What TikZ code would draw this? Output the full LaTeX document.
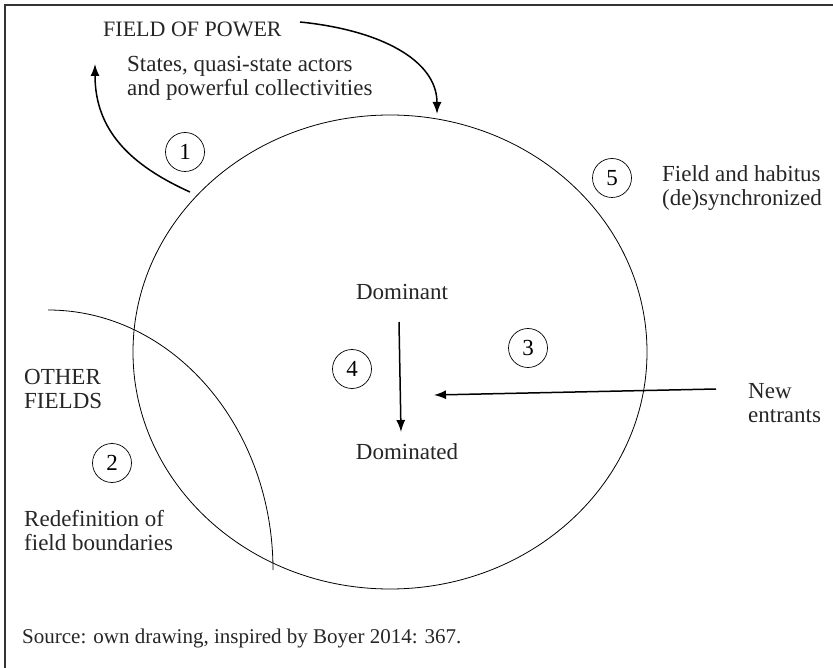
\documentclass[tikz,border=0pt]{standalone}
\usepackage{fontspec}
\setmainfont{Liberation Serif}
\usetikzlibrary{arrows.meta}
\tikzset{
  lbl/.style={font=\fontsize{23}{24}\selectfont, inner sep=0pt, align=left, anchor=base west, text=black!85},
  clbl/.style={font=\fontsize{23}{24}\selectfont, inner sep=0pt, anchor=base, text=black!85},
  num/.style={circle, draw, line width=0.7pt, minimum size=39pt, inner sep=0pt, font=\fontsize{23}{24}\selectfont},
  arr/.style={line width=1.5pt, -{Latex[length=12pt,width=9pt]}},
  thinline/.style={line width=0.8pt}
}
\begin{document}
\begin{tikzpicture}[x=1pt,y=-1pt]
\useasboundingbox (0,0) rectangle (833,668);
\fill[white] (0,0) rectangle (833,668);
% frame
\draw[line width=2pt, black!80] (5,668) -- (5,5) -- (833,5);
% main field
\draw[thinline] (390,352) ellipse[x radius=257, y radius=237];
% other fields
\draw[thinline] (48,310) arc[start angle=-90, end angle=0, x radius=225, y radius=260];
% labels (base = baseline of last line)
\node[lbl, font=\fontsize{22}{24}\selectfont] (fop) at (103,37) {FIELD OF POWER};
\node[lbl] (states) at (127,96) {States, quasi-state actors\\and powerful collectivities};
\node[lbl] (habitus) at (662,206) {Field and habitus\\(de)synchronized};
\node[lbl] (new) at (748,422) {New\\entrants};
\node[lbl] (other) at (24,408) {OTHER\\FIELDS};
\node[lbl] (redef) at (24,550) {Redefinition of\\field boundaries};
\node[clbl] (dom) at (402,300) {Dominant};
\node[clbl] (domd) at (407,459) {Dominated};
\node[lbl, font=\fontsize{21}{24}\selectfont] (src) at (22,643) {Source: own drawing, inspired by Boyer 2014: 367.};
% numbers
\node[num] (n1) at (185,152) {1};
\node[num] (n2) at (112,463) {2};
\node[num] (n3) at (528,348) {3};
\node[num] (n4) at (352,369) {4};
\node[num] (n5) at (612,178) {5};
% arrows
\coordinate (a1s) at (190,192);
\coordinate (a1e) at (95,64);
\coordinate (a2s) at (300,22);
\coordinate (a2e) at (437,114);
\coordinate (vs) at (399,322);
\coordinate (ve) at (401,432);
\coordinate (hs) at (716,389);
\coordinate (he) at (434,395);
\draw[arr] (a1s) .. controls (130,165) and (95,130) .. (a1e);
\draw[arr] (a2s) .. controls (380,30) and (437,60) .. (a2e);
\draw[arr] (vs) -- (ve);
\draw[arr] (hs) -- (he);
\end{tikzpicture}
\end{document}
